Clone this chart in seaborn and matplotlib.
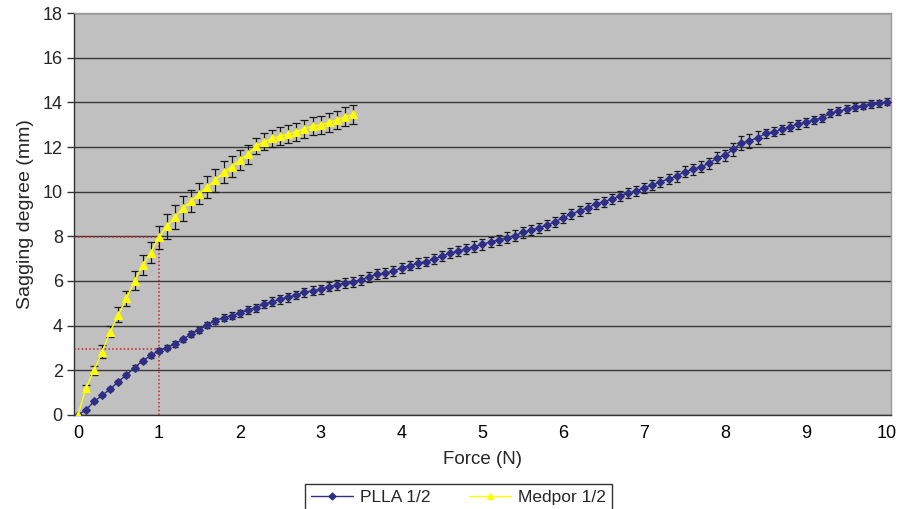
import numpy as np
import pandas as pd
import seaborn as sns
from matplotlib import pyplot as plt
from matplotlib.lines import Line2D

# Force steps (Excel category axis, 0.1 N apart)
force_plla = np.round(np.linspace(0, 10, 101), 1)
force_medpor = force_plla[:35]

plla = [0.0, 0.22, 0.60, 0.87, 1.16, 1.49, 1.79, 2.12, 2.42, 2.66,
        2.88, 3.01, 3.18, 3.39, 3.63, 3.81, 4.03, 4.22, 4.36, 4.45,
        4.55, 4.70, 4.80, 4.96, 5.07, 5.18, 5.27, 5.37, 5.49, 5.57,
        5.63, 5.75, 5.82, 5.90, 5.97, 6.05, 6.19, 6.31, 6.35, 6.46,
        6.57, 6.69, 6.79, 6.87, 6.97, 7.12, 7.24, 7.34, 7.43, 7.54,
        7.64, 7.76, 7.84, 7.94, 8.03, 8.18, 8.28, 8.39, 8.51, 8.66,
        8.84, 9.00, 9.15, 9.28, 9.45, 9.55, 9.67, 9.81, 9.93, 10.04,
        10.18, 10.30, 10.45, 10.57, 10.70, 10.90, 11.00, 11.12, 11.27, 11.52,
        11.64, 11.90, 12.19, 12.28, 12.42, 12.61, 12.69, 12.79, 12.91, 13.03,
        13.11, 13.22, 13.32, 13.51, 13.61, 13.70, 13.81, 13.85, 13.93, 13.96,
        14.03]
plla_err = [0.0, 0.06, 0.07, 0.08, 0.08, 0.09, 0.09, 0.10, 0.10, 0.10,
            0.11, 0.11, 0.12, 0.12, 0.13, 0.13, 0.14, 0.14, 0.15, 0.15,
            0.16, 0.17, 0.18, 0.18, 0.19, 0.19, 0.20, 0.20, 0.20, 0.21,
            0.21, 0.21, 0.22, 0.22, 0.22, 0.22, 0.22, 0.22, 0.22, 0.22,
            0.22, 0.22, 0.22, 0.22, 0.23, 0.23, 0.23, 0.23, 0.23, 0.23,
            0.23, 0.23, 0.23, 0.24, 0.24, 0.24, 0.23, 0.23, 0.23, 0.22,
            0.22, 0.22, 0.22, 0.22, 0.22, 0.22, 0.22, 0.22, 0.22, 0.22,
            0.22, 0.22, 0.23, 0.24, 0.25, 0.26, 0.26, 0.25, 0.24, 0.24,
            0.25, 0.28, 0.32, 0.30, 0.28, 0.22, 0.20, 0.20, 0.20, 0.20,
            0.19, 0.19, 0.18, 0.18, 0.18, 0.17, 0.17, 0.16, 0.16, 0.15,
            0.15]

medpor = [0.0, 1.20, 2.00, 2.83, 3.73, 4.48, 5.22, 6.01, 6.72, 7.27,
          7.96, 8.46, 8.88, 9.25, 9.60, 9.90, 10.22, 10.52, 10.87, 11.12,
          11.42, 11.67, 12.05, 12.24, 12.39, 12.49, 12.58, 12.69, 12.82, 12.94,
          12.99, 13.11, 13.21, 13.36, 13.47]
medpor_err = [0.0, 0.15, 0.20, 0.28, 0.26, 0.34, 0.34, 0.43, 0.45, 0.47,
              0.52, 0.56, 0.53, 0.54, 0.49, 0.47, 0.50, 0.51, 0.50, 0.48,
              0.45, 0.42, 0.37, 0.38, 0.39, 0.39, 0.40, 0.40, 0.41, 0.41,
              0.42, 0.42, 0.42, 0.43, 0.43]

# red dotted guide lines at 1 N
guide_force = 1.0
guide_medpor = 7.95
guide_plla = 2.95

df_plla = pd.DataFrame({"force": force_plla, "sag": plla, "err": plla_err})
df_medpor = pd.DataFrame({"force": force_medpor, "sag": medpor, "err": medpor_err})

sns.set_theme(style="white")
plt.rcParams["font.family"] = ["Liberation Sans", "DejaVu Sans"]

plla_color = "#2e2e86"
medpor_color = "#ffff00"

fig = plt.figure(figsize=(9.01, 5.09), dpi=100)
ax = fig.add_axes([0.082, 0.185, 0.907, 0.789])
ax.set_facecolor("#c0c0c0")

xmin, xmax = -0.05, 10.05

# guide lines
ax.plot([xmin, guide_force], [guide_medpor, guide_medpor], color="#d42020", ls=(0, (1, 1.5)), lw=1.1, zorder=2)
ax.plot([xmin, guide_force], [guide_plla, guide_plla], color="#d42020", ls=(0, (1, 1.5)), lw=1.1, zorder=2)
ax.plot([guide_force, guide_force], [0, guide_medpor], color="#d42020", ls=(0, (1, 1.5)), lw=1.1, zorder=2)

# error bars
ax.errorbar(df_plla["force"], df_plla["sag"], yerr=df_plla["err"], fmt="none",
            ecolor="#1a1a1a", elinewidth=0.9, capsize=2.4, capthick=0.9, zorder=3)
ax.errorbar(df_medpor["force"], df_medpor["sag"], yerr=df_medpor["err"], fmt="none",
            ecolor="#1a1a1a", elinewidth=0.9, capsize=2.8, capthick=0.9, zorder=3)

sns.lineplot(data=df_plla, x="force", y="sag", ax=ax, color=plla_color, lw=1.0,
             marker="D", markersize=4.5, markeredgecolor=plla_color, zorder=4)
sns.lineplot(data=df_medpor, x="force", y="sag", ax=ax, color=medpor_color, lw=1.0,
             marker="^", markersize=6, markeredgecolor=medpor_color, zorder=4)

ax.set_xlim(xmin, xmax)
ax.set_ylim(0, 18)
ax.set_yticks(np.arange(0, 19, 2))
ax.set_xticks(np.arange(0, 11, 1))
ax.set_xticks(np.linspace(xmin, xmax, 102), minor=True)
ax.yaxis.grid(True, color="#3a3a3a", lw=1.0)
ax.set_axisbelow(True)

ax.tick_params(axis="x", which="major", length=0, labelsize=13, pad=7, colors="black")
ax.tick_params(axis="x", which="minor", length=4, direction="in", width=0.8, color="#333333")
ax.tick_params(axis="y", which="major", length=5, direction="out", width=1.0, color="#333333",
               labelsize=13, pad=3, left=True)

for side in ["top", "right"]:
    ax.spines[side].set_color("#9a9a9a")
    ax.spines[side].set_linewidth(1.0)
for side in ["left", "bottom"]:
    ax.spines[side].set_color("#333333")
    ax.spines[side].set_linewidth(1.0)

ax.set_xlabel("Force (N)", fontsize=13.5, labelpad=7)
ax.set_ylabel("Sagging degree (mm)", fontsize=14, labelpad=6)

handles = [
    Line2D([], [], color=plla_color, lw=1.0, marker="D", markersize=3.5),
    Line2D([], [], color=medpor_color, lw=1.0, marker="^", markersize=4.5),
]
leg = fig.legend(handles, ["PLLA 1/2", "Medpor 1/2"], loc="upper center",
                 bbox_to_anchor=(0.509, 0.066), ncol=2, frameon=True, fancybox=False,
                 fontsize=12.5, handlelength=2.4, columnspacing=2.2, borderpad=0.35,
                 handletextpad=0.45)
leg.get_frame().set_edgecolor("black")
leg.get_frame().set_linewidth(1.0)

fig.savefig("out.png", dpi=100)
